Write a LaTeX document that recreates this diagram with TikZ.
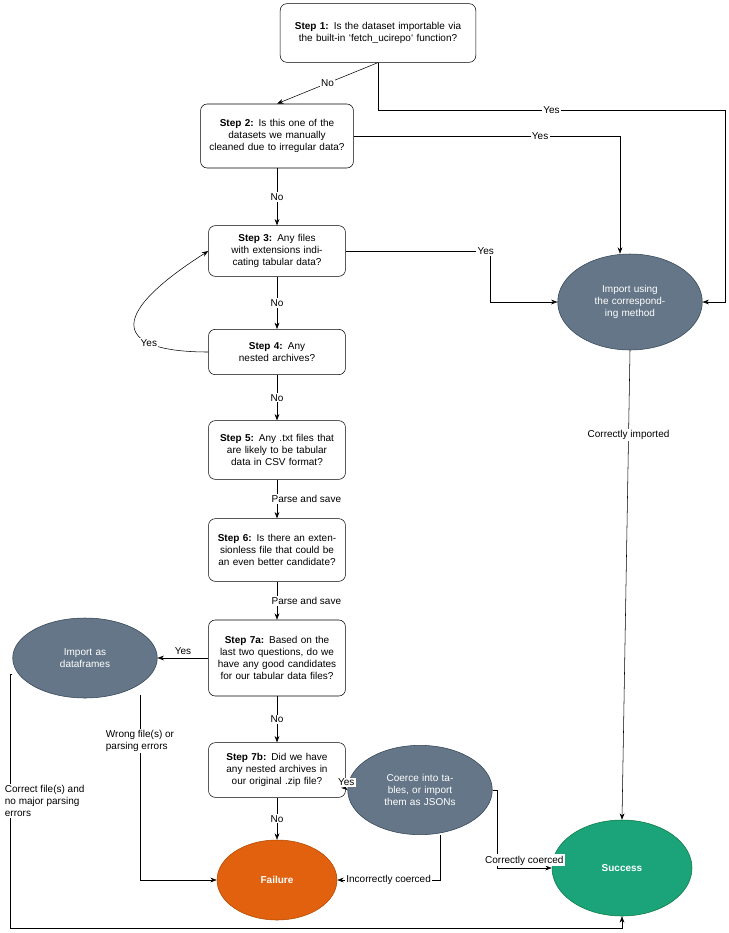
\documentclass[tikz,border=0pt]{standalone}
\usepackage{fontspec}
\setmainfont{Liberation Sans}
\usetikzlibrary{arrows.meta,shapes.geometric}
\definecolor{slate}{HTML}{647687}
\definecolor{slatedark}{HTML}{314354}
\definecolor{fail}{HTML}{E1610F}
\definecolor{faildark}{HTML}{B04A00}
\definecolor{succ}{HTML}{1BA37A}
\definecolor{succdark}{HTML}{0A7A3F}
\begin{document}
\begin{tikzpicture}[x=0.75pt,y=-0.75pt,font=\fontsize{7.5}{9}\selectfont,>=Stealth]
\tikzstyle{qbox}=[rectangle, rounded corners=5pt, draw, fill=white, align=center, text width=96pt, minimum height=40pt]
\tikzstyle{oval}=[ellipse, draw=slatedark, fill=slate, text=white, align=center, text width=70pt]
\tikzstyle{lbl}=[fill=white, inner sep=1pt]
\useasboundingbox (0,0) rectangle (729,933);

\node[qbox, text width=140pt, minimum height=44pt] (s1) at (378,33) {\textbf{Step 1:} Is the dataset importable via the built-in `fetch\_ucirepo` function?};
\node[qbox, text width=108pt, minimum height=48pt] (s2) at (277,136) {\textbf{Step 2:} Is this one of the datasets we manually cleaned due to irregular data?};
\node[qbox, minimum height=38pt] (s3) at (277,251) {\textbf{Step 3:} Any files with extensions indicating tabular data?};
\node[qbox, minimum height=34pt] (s4) at (277,352) {\textbf{Step 4:} Any nested archives?};
\node[qbox, minimum height=44pt] (s5) at (277,450) {\textbf{Step 5:} Any .txt files that are likely to be tabular data in CSV format?};
\node[qbox, minimum height=47pt] (s6) at (277,550) {\textbf{Step 6:} Is there an extensionless file that could be an even better candidate?};
\node[qbox, minimum height=57pt] (s7a) at (277,658) {\textbf{Step 7a:} Based on the last two questions, do we have any good candidates for our tabular data files?};
\node[qbox, minimum height=41pt] (s7b) at (277,770) {\textbf{Step 7b:} Did we have any nested archives in our original .zip file?};

\node[oval, minimum width=108pt, minimum height=72pt] (imp) at (630,302) {Import using the corresponding method};
\node[oval, minimum width=97pt, minimum height=60pt] (df) at (85,658) {Import as dataframes};
\node[oval, minimum width=97pt, minimum height=67pt] (co) at (420,790) {Coerce into tables, or import them as JSONs};
\node[ellipse, draw=faildark, fill=fail, text=white, minimum width=90pt, minimum height=60pt] (fl) at (277,880) {\textbf{Failure}};
\node[ellipse, draw=succdark, fill=succ, text=white, minimum width=105pt, minimum height=72pt] (sc) at (622,868) {\textbf{Success}};

\coordinate (c1) at (378,110);
\coordinate (c2) at (725,110);
\coordinate (c3) at (725,302);
\draw[->] (s1.south) -- node[lbl] {No} (s2.north);
\draw[->] (s1.south) -- (c1) -- node[lbl,pos=0.5] {Yes} (c2) -- (c3) -- (imp.east);
\draw[->] (s2.east) -- node[lbl,pos=0.7] {Yes} (620,136) -- (imp.north -| 620,0);
\draw[->] (s2) -- node[lbl] {No} (s3);
\draw[->] (s3.east) -- node[lbl,pos=0.97] {Yes} (490,251) -- (490,302) -- (imp.west);
\draw[->] (s3) -- node[lbl] {No} (s4);
\draw[->] (s4.west) .. controls (120,352) and (100,320) .. node[lbl,pos=0.3] {Yes} (s3.west);
\draw[->] (s4) -- node[lbl] {No} (s5);
\draw[->] (s5) -- node[lbl,xshift=22pt] {Parse and save} (s6);
\draw[->] (s6) -- node[lbl,xshift=22pt] {Parse and save} (s7a);
\draw[->] (s7a.west) -- node[lbl,above=1pt] {Yes} (df.east);
\draw[->] (s7a) -- node[lbl] {No} (s7b);
\draw[->] (s7b) -- node[lbl] {No} (fl);
\draw[->] (345,788) -- node[lbl,above=1pt] {Yes} (co.west);
\draw[->] (co.south -| 440,0) -- (440,880) -- node[lbl] {Incorrectly coerced} (fl.east);
\draw[->] (co.east) -- (497,790) -- (497,868) -- node[lbl,above=1pt] {Correctly coerced} (sc.west);
\draw[->] (140,695) -- node[lbl,pos=0.25,align=left] {Wrong file(s) or\\parsing errors} (140,880) -- (fl.west);
\draw[->] (df.west) ++(0,16) -- (10,674) -- node[lbl,pos=0.5,xshift=26pt,align=left] {Correct file(s) and\\no major parsing\\errors} (10,928) -- (622,928) -- (sc.south);
\draw[->] (imp.south) -- node[lbl,pos=0.18] {Correctly imported} (sc.north);
\end{tikzpicture}
\end{document}
